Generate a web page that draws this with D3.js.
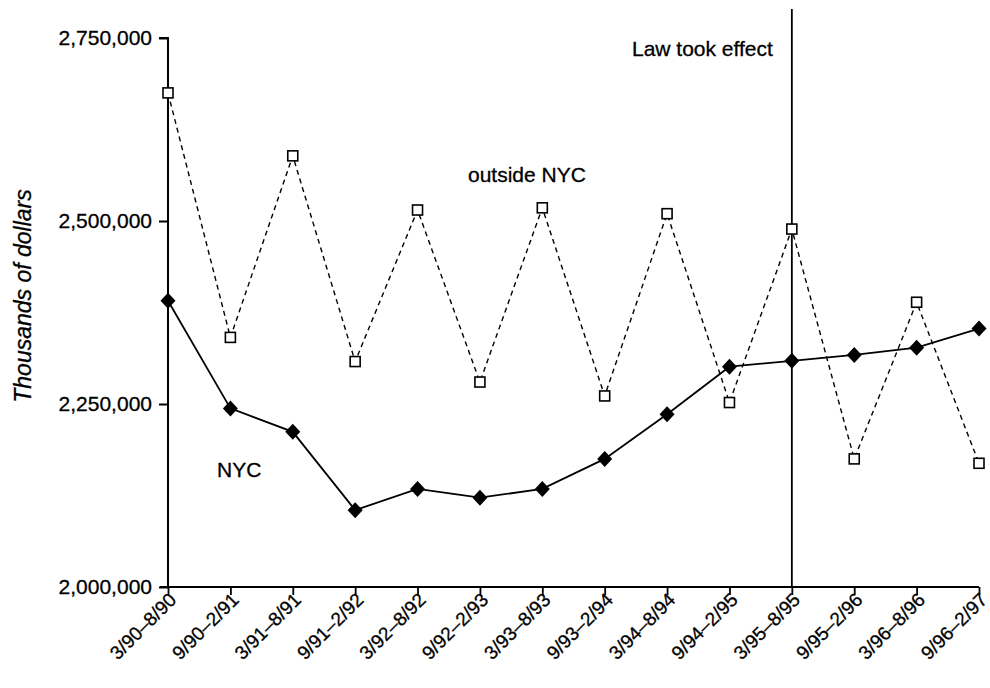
<!DOCTYPE html>
<html><head><meta charset="utf-8">
<script src="https://cdn.jsdelivr.net/npm/d3@7"></script>
<style>body{margin:0;background:#fff}svg{display:block}text{font-family:"Liberation Sans",Arial,sans-serif;fill:#000}</style>
</head><body>
<script>
const periods = ["3/90–8/90","9/90–2/91","3/91–8/91","9/91–2/92","3/92–8/92","9/92–2/93","3/93–8/93","9/93–2/94","3/94–8/94","9/94–2/95","3/95–8/95","9/95–2/96","3/96–8/96","9/96–2/97"];
const outsideNYC = [2675000,2341000,2589000,2308000,2515000,2280000,2518000,2261000,2510000,2252000,2489000,2175000,2389000,2169000];
const nyc = [2391000,2244000,2212000,2105000,2134000,2122000,2134000,2175000,2236000,2301000,2309000,2317000,2327000,2353000];
const yTicks = [2000000,2250000,2500000,2750000];
const lawPeriod = "3/95–8/95";

const W=990,H=688;
const svg=d3.select("body").append("svg").attr("width",W).attr("height",H);
const x=d3.scalePoint().domain(periods).range([168,979]);
const y=d3.scaleLinear().domain([2000000,2750000]).range([587,38]);
const FONT="Liberation Sans, Arial, sans-serif";

// y axis
const ya=svg.append("g").attr("transform","translate(168,0)")
  .call(d3.axisLeft(y).tickValues(yTicks).tickFormat(d3.format(",")).tickSize(9).tickPadding(7));
ya.select(".domain").attr("d","M-9,38H0V587").attr("stroke-width",2);
ya.selectAll(".tick line").attr("stroke-width",2);
ya.selectAll(".tick text").style("font-size","21px").style("font-family",FONT)
  .attr("stroke","#000").attr("stroke-width",0.3);

// x axis
const xa=svg.append("g").attr("transform","translate(0,587)")
  .call(d3.axisBottom(x).tickSize(8).tickSizeOuter(0));
xa.select(".domain").attr("d","M160,0H979").attr("stroke-width",2);
xa.selectAll(".tick line").attr("stroke-width",1.8);
xa.selectAll(".tick text").style("font-size","19px").style("font-family",FONT)
  .attr("stroke","#000").attr("stroke-width",0.3)
  .attr("text-anchor","end").attr("dy",null).attr("y",0)
  .attr("transform","translate(9,14) rotate(-45)");

// law line
svg.append("line").attr("x1",x(lawPeriod)).attr("x2",x(lawPeriod)).attr("y1",9).attr("y2",587)
  .attr("stroke","#000").attr("stroke-width",1.8);
svg.append("text").attr("x",x(lawPeriod)-19).attr("y",56).attr("text-anchor","end")
  .style("font-size","21px").attr("stroke","#000").attr("stroke-width",0.3).text("Law took effect");

// lines
const line=d3.line().x((d,i)=>x(periods[i])).y(d=>y(d));
svg.append("path").datum(outsideNYC).attr("d",line).attr("fill","none")
  .attr("stroke","#000").attr("stroke-width",1.4).attr("stroke-dasharray","5,4");
svg.append("path").datum(nyc).attr("d",line).attr("fill","none")
  .attr("stroke","#000").attr("stroke-width",1.8);

svg.selectAll(".sq").data(outsideNYC).enter().append("rect")
  .attr("x",(d,i)=>x(periods[i])-5).attr("y",d=>y(d)-5).attr("width",10).attr("height",10)
  .attr("fill","#fff").attr("stroke","#000").attr("stroke-width",1.6);
svg.selectAll(".dm").data(nyc).enter().append("path")
  .attr("transform",(d,i)=>`translate(${x(periods[i])},${y(d)})`)
  .attr("d","M0,-8L7.5,0L0,8L-7.5,0Z").attr("fill","#000");

svg.append("text").attr("x",468).attr("y",182).style("font-size","21px")
  .attr("stroke","#000").attr("stroke-width",0.3).text("outside NYC");
svg.append("text").attr("x",217).attr("y",477).style("font-size","21px")
  .attr("stroke","#000").attr("stroke-width",0.3).text("NYC");
svg.append("text").attr("transform","translate(31,296) rotate(-90)").attr("text-anchor","middle")
  .style("font-size","23px").style("font-style","italic")
  .attr("stroke","#000").attr("stroke-width",0.3).text("Thousands of dollars");
</script>
</body></html>
